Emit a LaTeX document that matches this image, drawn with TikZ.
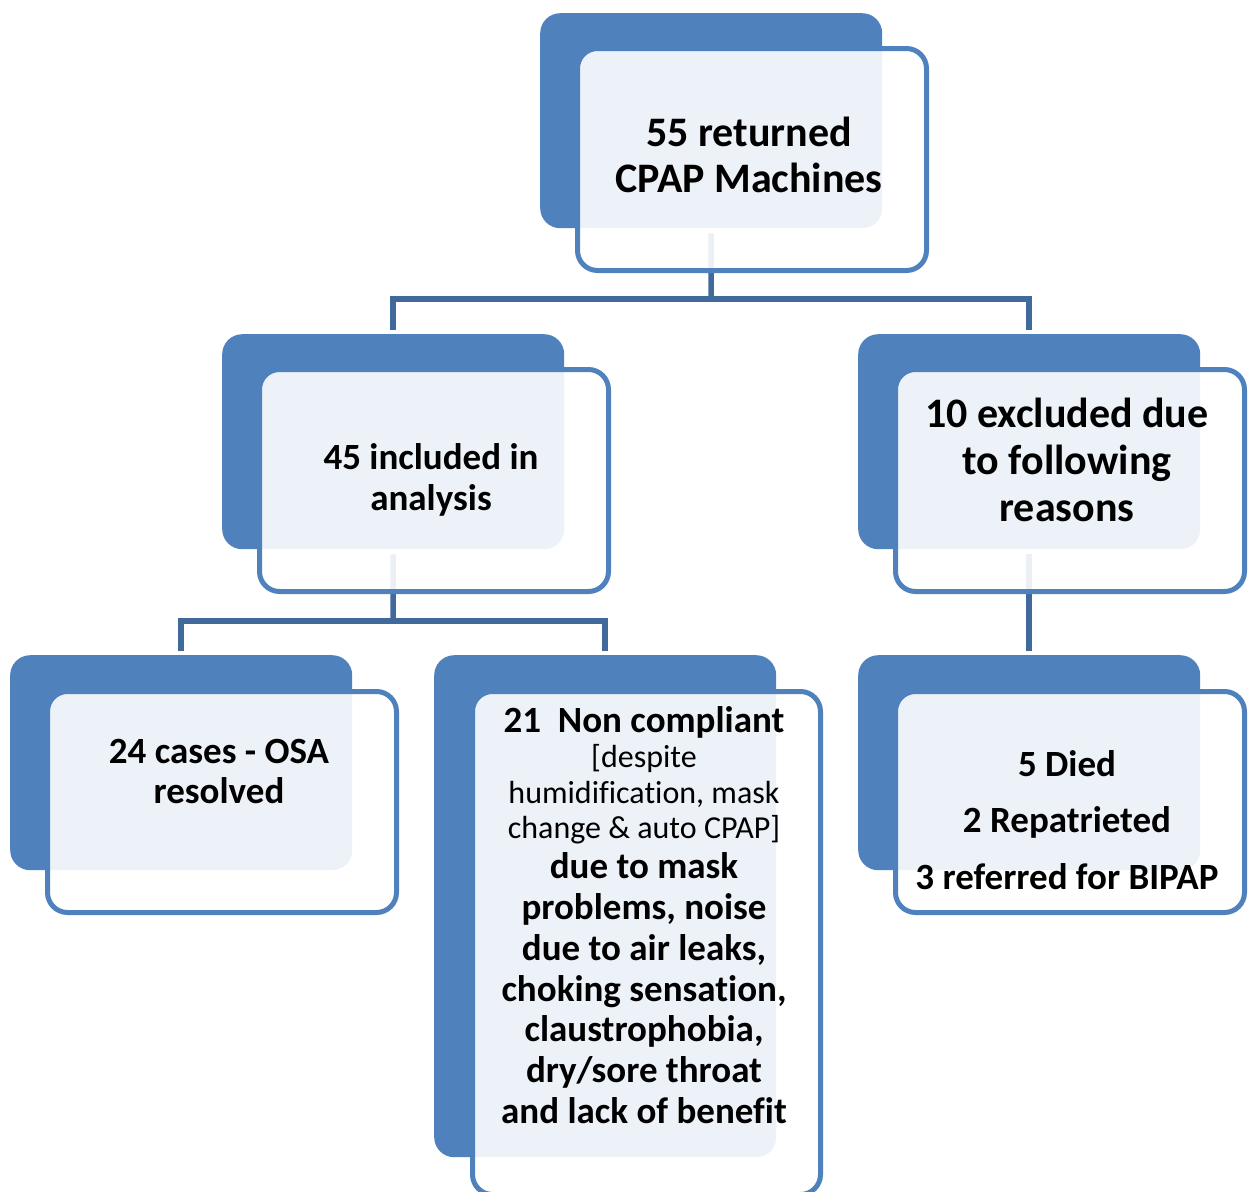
\documentclass[tikz,border=0pt]{standalone}
\usepackage{fontspec}
\setmainfont{Carlito}[Ligatures=NoCommon]
\definecolor{backblue}{HTML}{4F81BD}
\definecolor{linkblue}{HTML}{416A9C}
\newcommand{\reglines}[1]{{\mdseries\fontsize{32}{35.5}\selectfont #1}}
\begin{document}
\begin{tikzpicture}[x=1pt,y=-1pt,
  backbox/.style={fill=backblue, rounded corners=20pt, minimum width=342pt, minimum height=215pt, inner sep=0pt, anchor=north west},
  frontbox/.style={draw=backblue, line width=5pt, fill=white, fill opacity=0.9, rounded corners=20pt, minimum width=349pt, minimum height=222pt, inner sep=0pt, anchor=north west},
  link/.style={draw=linkblue, line width=5.5pt, line join=miter},
  lbl/.style={align=center, inner sep=0pt, text=black}]
\useasboundingbox (0,0) rectangle (1251,1192);
% back boxes
\node[backbox] (b1) at (540,13) {};
\node[backbox] (b2) at (222,334) {};
\node[backbox] (b3) at (858,334) {};
\node[backbox] (b4) at (10,655) {};
\node[backbox, minimum height=502pt] (b5) at (434,655) {};
\node[backbox] (b6) at (858,655) {};
% connectors
\coordinate (j1) at (711,299);
\coordinate (j2) at (393,621);
\draw[link, shorten <=5pt] (b1.south) -- (j1);
\draw[link, shorten <=4pt, shorten >=4pt] (b2.north) |- (j1) -| (b3.north);
\draw[link, shorten <=5pt] (b2.south) -- (j2);
\draw[link, shorten <=4pt, shorten >=4pt] (b4.north) |- (j2) -| (b5.north);
\draw[link, shorten <=5pt, shorten >=4pt] (b3.south) -- (b6.north);
% front boxes
\node[frontbox] (f1) at (575,46) {};
\node[frontbox] (f2) at (257,367) {};
\node[frontbox] (f3) at (893,367) {};
\node[frontbox, minimum height=221pt] (f4) at (45,689) {};
\node[frontbox, minimum height=503pt, minimum width=348pt] (f5) at (470,689) {};
\node[frontbox, minimum height=221pt] (f6) at (893,689) {};
% texts
\node[lbl, font=\bfseries\fontsize{42}{46}\selectfont] (t1) at (749,155) {55 returned\\CPAP Machines};
\node[lbl, font=\bfseries\fontsize{37}{40.5}\selectfont] (t2) at (431,480) {45 included in\\analysis};
\node[lbl, font=\bfseries\fontsize{42}{47}\selectfont] (t3) at (1067,460) {10 excluded due\\to following\\reasons};
\node[lbl, font=\bfseries\fontsize{37}{40}\selectfont] (t4) at (219,771) {24 cases - OSA\\resolved};
\node[lbl, font=\bfseries\fontsize{37}{40.8}\selectfont] (t5) at (644,915) {21\ \ Non compliant\\[-5.3pt]
\reglines{[despite}\\[-5.3pt]
\reglines{humidification, mask}\\[-5.3pt]
\reglines{change \& auto CPAP]}\\[-0.8pt]
due to mask\\problems, noise\\due to air leaks,\\choking sensation,\\claustrophobia,\\dry/sore throat\\and lack of benefit};
\node[lbl, font=\bfseries\fontsize{37}{56.5}\selectfont] (t6) at (1067,820) {5 Died\\2 Repatrieted\\3 referred for BIPAP};
\end{tikzpicture}
\end{document}
